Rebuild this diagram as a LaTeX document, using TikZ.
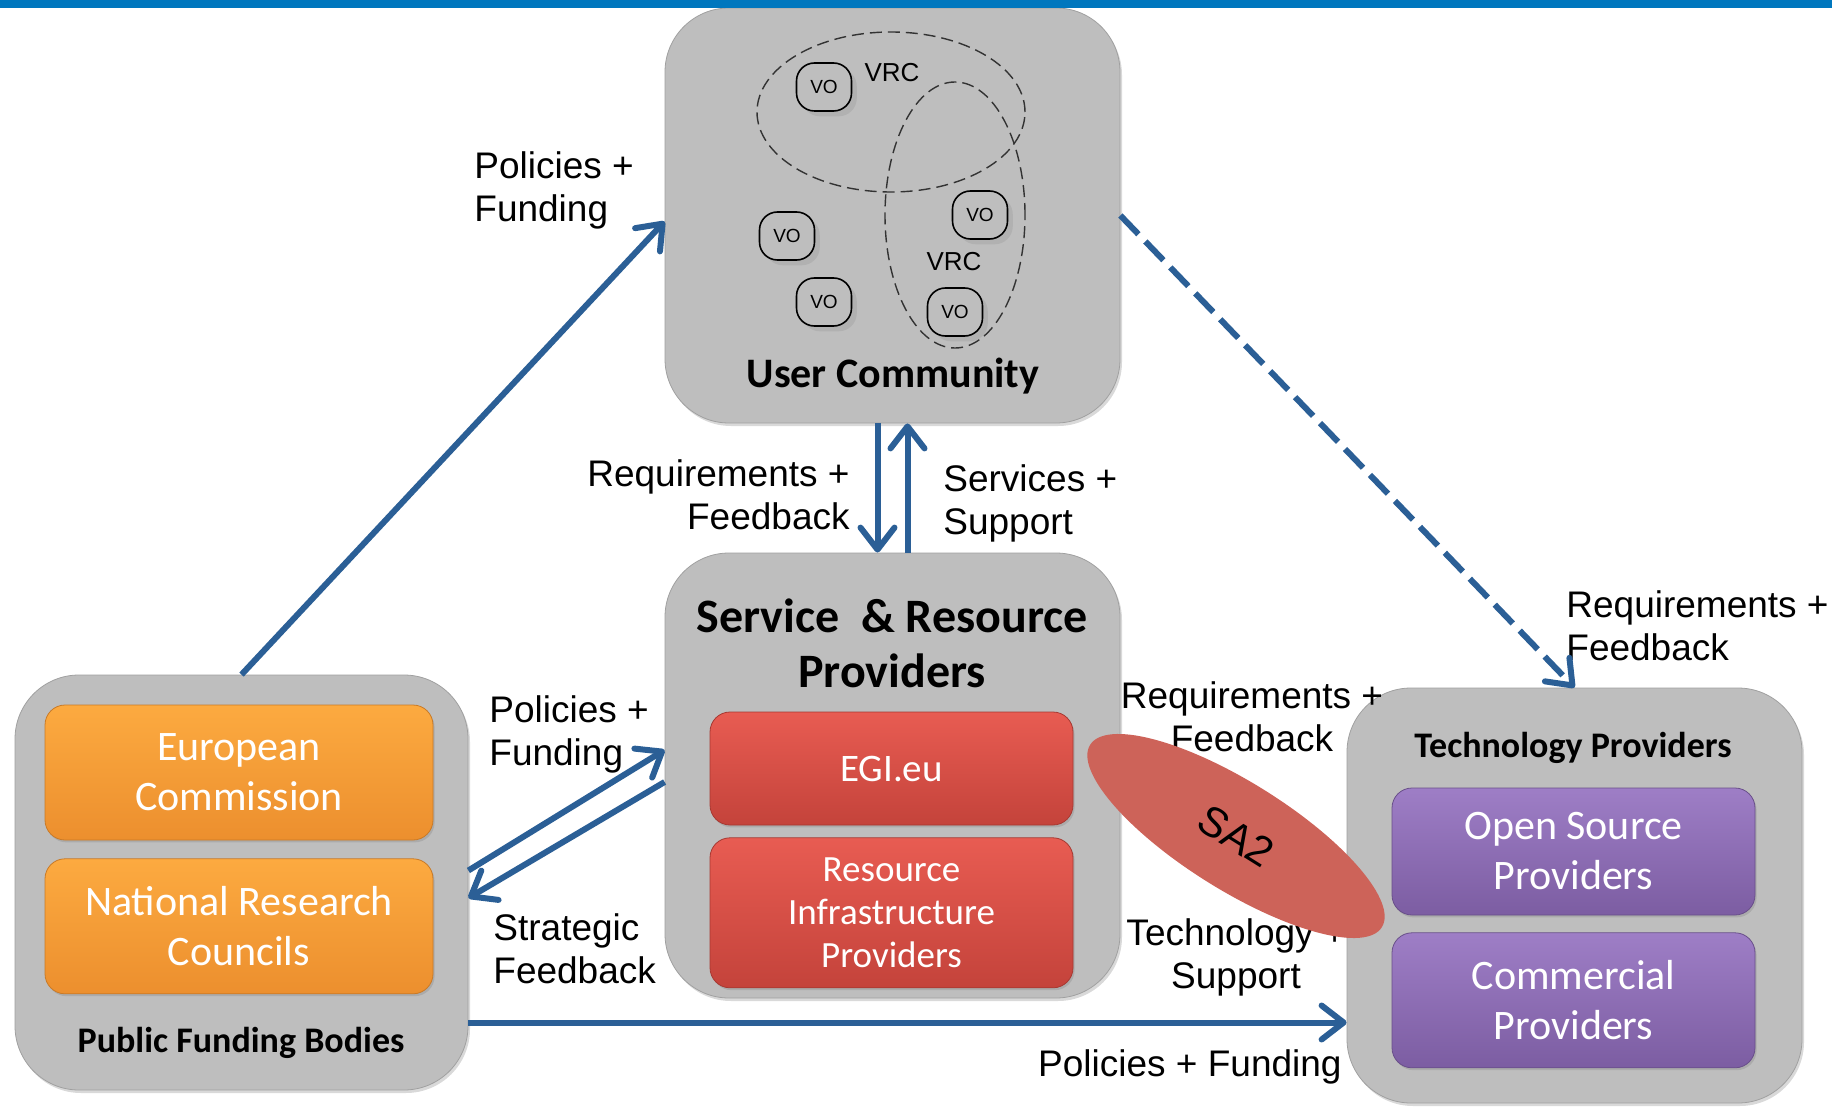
\documentclass[tikz,border=0pt]{standalone}
\usepackage{fontspec}
\setmainfont{Liberation Sans}
\newfontfamily\boxfont{Carlito}
\usetikzlibrary{positioning,arrows.meta,shapes.geometric,shadows}
\definecolor{barblue}{RGB}{0,119,190}
\definecolor{flowblue}{RGB}{43,95,150}
\definecolor{boxgray}{RGB}{190,190,190}
\definecolor{rimgray}{RGB}{160,160,160}
\definecolor{ectop}{RGB}{252,170,64}
\definecolor{ecbot}{RGB}{236,143,46}
\definecolor{egitop}{RGB}{232,92,82}
\definecolor{egibot}{RGB}{196,67,59}
\definecolor{tptop}{RGB}{158,126,198}
\definecolor{tpbot}{RGB}{124,93,162}
\definecolor{sared}{RGB}{205,99,89}

\begin{document}
\begin{tikzpicture}[x=0.5pt, y=-0.5pt,
    bigbox/.style={draw=rimgray, fill=boxgray, rounded corners=32pt, minimum width=227.5pt, minimum height=207.5pt,
      drop shadow={opacity=0.3, shadow xshift=1pt, shadow yshift=-1.5pt}},
    innerbox/.style={rounded corners=10pt, minimum width=181.5pt, text=white, align=center,
      font=\boxfont\fontsize{21}{25}\selectfont, drop shadow={opacity=0.3, shadow xshift=0.8pt, shadow yshift=-1.2pt}},
    orangebox/.style={innerbox, top color=ectop, bottom color=ecbot, draw=ecbot!85!black, minimum width=194pt, minimum height=67.5pt},
    redbox/.style={innerbox, top color=egitop, bottom color=egibot, draw=egibot!85!black},
    purplebox/.style={innerbox, top color=tptop, bottom color=tpbot, draw=tpbot!85!black},
    title/.style={inner sep=0pt, font=\boxfont\bfseries\fontsize{21}{25}\selectfont},
    vo/.style={draw=black, line width=0.8pt, rounded corners=9pt, minimum width=27.5pt, minimum height=24pt, inner sep=0pt,
      fill=boxgray, font=\fontsize{9.5}{11}\selectfont, drop shadow={opacity=0.2}},
    vrc/.style={inner sep=0pt, font=\fontsize{13}{15}\selectfont},
    vrcline/.style={draw=black!80, line width=0.7pt, dash pattern=on 6pt off 3pt},
    lbl/.style={inner sep=0pt, font=\fontsize{18.5}{21.5}\selectfont},
    flow/.style={draw=flowblue, line width=3pt, -{Straight Barb[length=11pt, width=17pt, line cap=round, line join=round]}},
    dashflow/.style={flow, dash pattern=on 13pt off 5pt}
  ]
  \useasboundingbox (0,0) rectangle (1832,1107);

  % the four groups
  \node (uc) [bigbox] at (892.5,215.5) {};
  \node (srp) [bigbox, minimum height=222.5pt] at (892.5,775.5) {};
  \node (pfb) [bigbox, minimum width=226.5pt] at (241.5,882.5) {};
  \node (tp) [bigbox] at (1574.5,895.5) {};

  \node (uct) [title, anchor=base] at (893,387) {User Community};
  \node (srpt) [title, font=\boxfont\bfseries\fontsize{24}{27.5}\selectfont, align=center, anchor=north] at (892,598) {Service \ \& Resource\\Providers};
  \node (pfbt) [title, font=\boxfont\bfseries\fontsize{18}{22}\selectfont, anchor=base] at (241,1052) {Public Funding Bodies};
  \node (tpt) [title, font=\boxfont\bfseries\fontsize{18}{22}\selectfont, anchor=base] at (1573,757) {Technology Providers};

  % members
  \node (ec) [orangebox] at (239,772.5) {European\\Commission};
  \node (nrc) [orangebox, below=9pt of ec] {National Research\\Councils};
  \node (egi) [redbox, minimum height=56.5pt, font=\boxfont\fontsize{19.5}{23}\selectfont] at (891.5,768.5) {EGI.eu};
  \node (rip) [redbox, minimum height=75pt, below=6pt of egi, font=\boxfont\fontsize{18.5}{21.5}\selectfont] {Resource\\Infrastructure\\Providers};
  \node (osp) [purplebox, minimum height=63.5pt] at (1573.5,851.5) {Open Source\\Providers};
  \node (cp) [purplebox, minimum height=67.5pt, below=8.5pt of osp] {Commercial\\Providers};

  % inside the user community
  \draw[vrcline] (891,112) ellipse [x radius=67pt, y radius=40pt];
  \draw[vrcline] (955,215) ellipse [x radius=35pt, y radius=66.5pt];
  \node (vo1) [vo] at (824,87) {VO};
  \node (vo2) [vo] at (787,236) {VO};
  \node (vo3) [vo] at (824,302) {VO};
  \node (vo4) [vo] at (980,215) {VO};
  \node (vo5) [vo] at (955,312) {VO};
  \node (vrc1) [vrc] at (892,73) {VRC};
  \node (vrc2) [vrc] at (954,262) {VRC};

  % labels
  \node (lpf1) [lbl, align=left, anchor=north west] at (474,151) {Policies +\\Funding};
  \node (lrf1) [lbl, align=right, anchor=north east] at (850,459) {Requirements +\\Feedback};
  \node (lss) [lbl, align=left, anchor=north west] at (943,464) {Services +\\Support};
  \node (lrf2) [lbl, align=left, anchor=north west] at (1566,590) {Requirements +\\Feedback};
  \node (lrf3) [lbl, align=center, anchor=north] at (1252,681) {Requirements +\\Feedback};
  \node (lts) [lbl, align=center, anchor=north] at (1236,918) {Technology +\\Support};
  \node (lpf2) [lbl, align=left, anchor=north west] at (489,695) {Policies +\\Funding};
  \node (lsf) [lbl, align=left, anchor=north west] at (493,913) {Strategic\\Feedback};
  \node (lpf3) [lbl, anchor=north east] at (1342,1049) {Policies + Funding};

  % flows
  \draw[flow] (pfb.north) -- ([yshift=-3pt]uc.west);
  \draw[flow] ([xshift=-7.5pt]uc.south) -- ([xshift=-7.5pt]srp.north);
  \draw[flow] ([xshift=7.5pt]srp.north) -- ([xshift=7.5pt]uc.south);
  \draw[flow] ([yshift=6pt]pfb.east) -- ([yshift=12.75pt]srp.west);
  \draw[flow] ([yshift=-3.25pt]srp.west) -- ([yshift=-7.75pt]pfb.east);
  \draw[dashflow] (uc.east) -- (tp.north);
  \coordinate (pfblow) at ([yshift=-70pt]pfb.east);
  \draw[flow] (pfblow) -- (pfblow -| tp.west);

  \node (sa2) [ellipse, fill=sared, inner sep=0pt, minimum width=172pt, minimum height=54pt, rotate=-32,
    font=\fontsize{21}{25}\selectfont] at (1236,836) {SA2};

  \fill[barblue] (0,0) rectangle (1832,8);
\end{tikzpicture}
\end{document}
